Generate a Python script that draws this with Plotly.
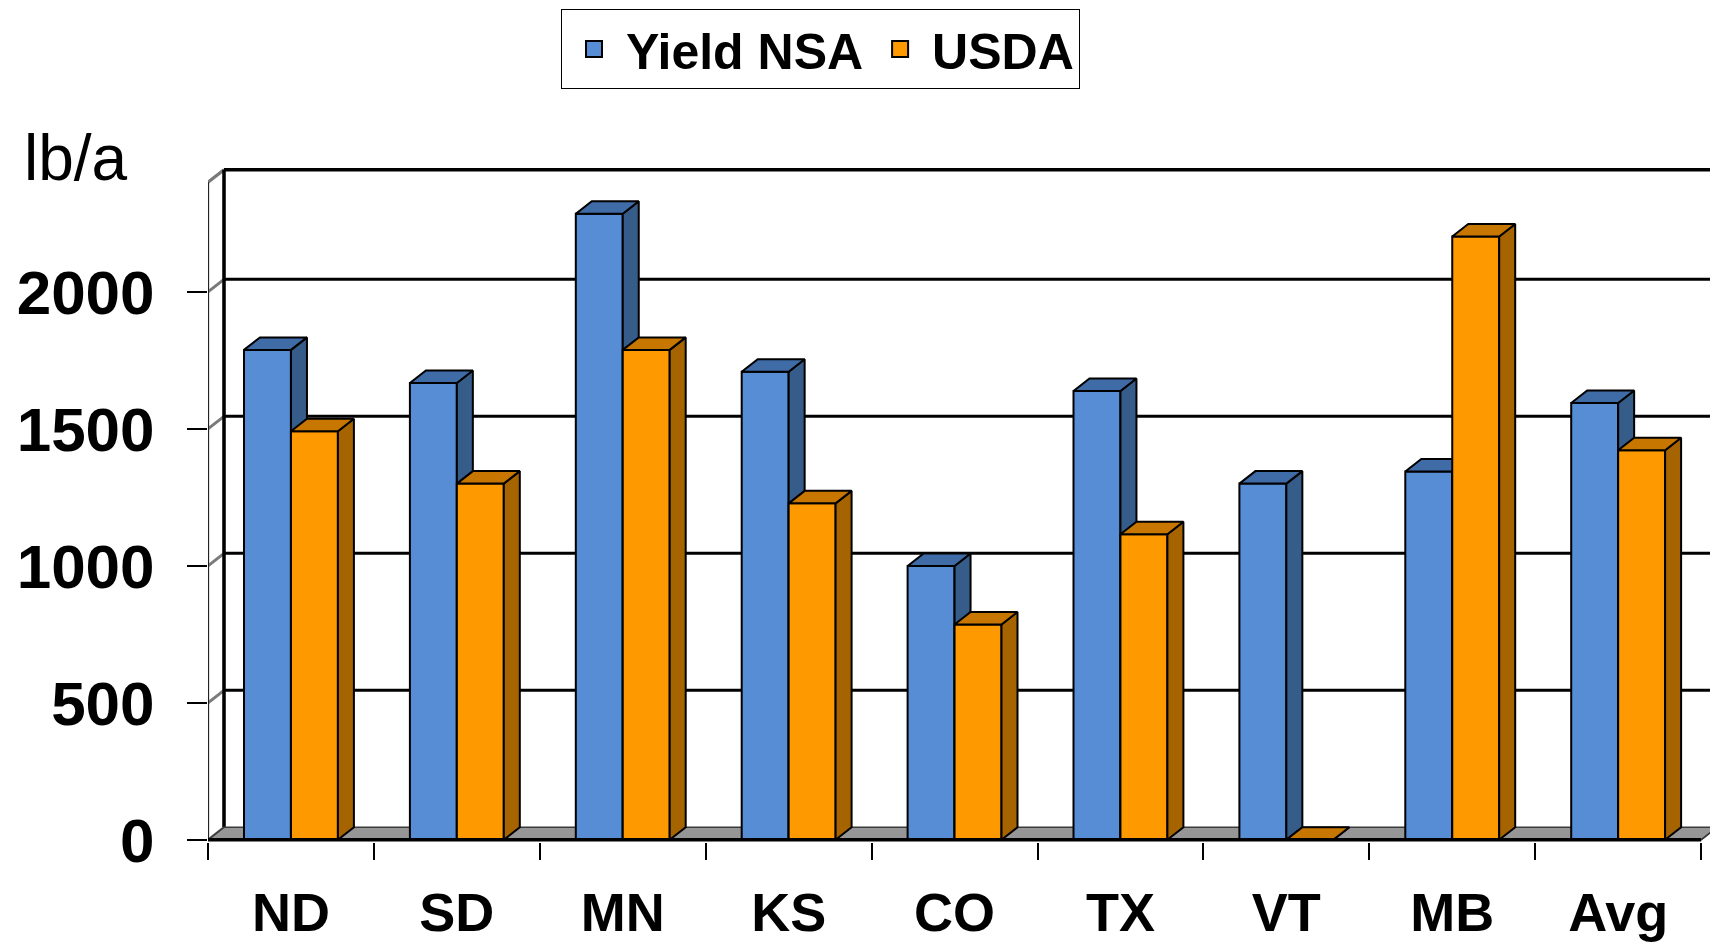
import plotly.graph_objects as go

# ---------------- data ----------------
categories = ["ND", "SD", "MN", "KS", "CO", "TX", "VT", "MB", "Avg"]
yield_nsa = [1788, 1667, 2285, 1708, 999, 1638, 1300, 1344, 1594]
usda = [1491, 1300, 1788, 1228, 786, 1115, 0, 2202, 1422]
y_ticks = [0, 500, 1000, 1500, 2000]
y_ticktext = ["0", "500", "1000", "1500", "2000"]
wall_top = 2400

# ---------------- geometry / styles ----------------
OFF = 8                      # page body margin
W, H = 1718 - OFF, 947 - OFF
ML, MT, MBOT, MR = 208 - OFF, 166 - OFF, 105, 0
plot_w = W - ML - MR
plot_h = H - MT - MBOT
px_per_cat = 165.9
px_per_unit = 0.274
x_lo = -0.5
x_hi = x_lo + plot_w / px_per_cat
y_lo = -8
y_hi = y_lo + plot_h / px_per_unit
DX = 16 / px_per_cat          # depth shift (categories)
DY = 12.5 / px_per_unit       # depth shift (value units)
BW = 0.283                    # bar width (categories)
n = len(categories)
x_left_edge, x_right_edge = -0.5, n - 0.5

FONT = "Liberation Sans, Arial, sans-serif"
blue = dict(front="#568DD5", side="#365C8A", top="#3F6BA6")
orange = dict(front="#FF9900", side="#A66400", top="#C77700")

fig = go.Figure()


def line_trace(xs, ys, color, width, z=0):
    fig.add_trace(go.Scatter(x=xs, y=ys, mode="lines", line=dict(color=color, width=width),
                             hoverinfo="skip", showlegend=False, zorder=z))


def poly_trace(polys, fill, z, lw=2, lc="black"):
    xs, ys = [], []
    for px, py in polys:
        xs += list(px) + [px[0], None]
        ys += list(py) + [py[0], None]
    fig.add_trace(go.Scatter(x=xs, y=ys, mode="lines", fill="toself", fillcolor=fill,
                             line=dict(color=lc, width=lw), hoverinfo="skip",
                             showlegend=False, zorder=z))


# side wall (left)
poly_trace([([x_left_edge, x_left_edge, x_left_edge + DX, x_left_edge + DX],
             [0, wall_top, wall_top + DY, DY])], "white", 0, lw=2.5, lc="#8a8a8a")
for v in y_ticks[1:]:
    line_trace([x_left_edge, x_left_edge + DX], [v, v + DY], "#7a7a7a", 3, 0)
line_trace([x_left_edge, x_left_edge + DX], [wall_top, wall_top + DY], "#7a7a7a", 3, 0)
# back wall gridlines
for v in y_ticks[1:]:
    line_trace([x_left_edge + DX, x_right_edge + DX], [v + DY, v + DY], "black", 3, 0)
# back wall top + left edge + right edge
line_trace([x_left_edge + DX, x_right_edge + DX], [wall_top + DY, wall_top + DY], "black", 3.5, 0)
line_trace([x_left_edge + DX, x_left_edge + DX], [DY, wall_top + DY], "black", 3.5, 0)
line_trace([x_right_edge + DX, x_right_edge + DX], [DY, wall_top + DY], "#cfcfcf", 2, 0)
# front edge of side wall
line_trace([x_left_edge, x_left_edge], [0, wall_top], "black", 1.5, 0)
# floor
poly_trace([([x_left_edge, x_right_edge, x_right_edge + DX, x_left_edge + DX],
             [0, 0, DY, DY])], "#969696", 0, lw=1.5, lc="#3a3a3a")


def add_series(vals, name, colors, x0_off, z):
    xs = [i + x0_off + BW / 2 for i in range(n)]
    fig.add_trace(go.Bar(x=xs, y=vals, width=BW, name=name,
                         marker=dict(color=colors["front"], line=dict(color="black", width=2)),
                         showlegend=False, zorder=z))
    sides, tops = [], []
    for i, v in enumerate(vals):
        xl = i + x0_off
        xr = xl + BW
        sides.append(([xr, xr + DX, xr + DX, xr], [0, DY, v + DY, v]))
        tops.append(([xl, xr, xr + DX, xl + DX], [v, v, v + DY, v + DY]))
    poly_trace(sides, colors["side"], z)
    poly_trace(tops, colors["top"], z)


add_series(yield_nsa, "Yield NSA", blue, -BW, 1)
add_series(usda, "USDA", orange, 0.0, 2)

# front x axis line
line_trace([x_left_edge, x_right_edge], [0, 0], "black", 3.5, 3)
line_trace([x_right_edge, x_right_edge + DX], [0, DY], "#3a3a3a", 1.5, 3)

# legend entries (attached to boundary-tick axis)
for name, c in [("Yield NSA", blue["front"]), ("USDA", orange["front"])]:
    fig.add_trace(go.Scatter(x=[None], y=[None], mode="markers", name=name, xaxis="x2",
                             marker=dict(symbol="square", size=22, color=c,
                                         line=dict(color="black", width=2))))

fig.add_annotation(text="lb/a", xref="paper", yref="paper",
                   x=(22 - OFF - ML) / plot_w, y=(H - MBOT - (158 - OFF)) / plot_h,
                   xanchor="left", yanchor="middle", showarrow=False,
                   font=dict(family=FONT, size=64, color="black"))

fig.update_layout(
    width=W, height=H,
    margin=dict(l=ML, r=MR, t=MT, b=MBOT, autoexpand=False),
    paper_bgcolor="white", plot_bgcolor="white",
    barmode="overlay",
    showlegend=True,
    legend=dict(orientation="h", x=(561 - OFF - ML) / plot_w, y=(H - MBOT - (9 - OFF)) / plot_h,
                xanchor="left", yanchor="top", bgcolor="white",
                bordercolor="black", borderwidth=1, itemwidth=54,
                font=dict(family=FONT, size=50, color="black", weight="bold")),
    xaxis=dict(range=[x_lo, x_hi], tickvals=list(range(n)), ticktext=categories,
               ticks="", showgrid=False, zeroline=False, showline=False,
               ticklabelstandoff=34, automargin=False,
               tickfont=dict(family=FONT, size=54, color="black", weight="bold")),
    xaxis2=dict(range=[x_lo, x_hi], overlaying="x", anchor="y", side="bottom",
                tickvals=[k - 0.5 for k in range(n + 1)], ticks="outside", ticklen=17,
                tickwidth=1.5, tickcolor="black", showticklabels=False, automargin=False,
                showgrid=False, zeroline=False, showline=False),
    yaxis=dict(range=[y_lo, y_hi], tickvals=y_ticks, ticktext=y_ticktext,
               ticks="outside", ticklen=20, tickwidth=1.5, tickcolor="black",
               showgrid=False, zeroline=False, showline=False,
               ticklabelstandoff=20, automargin=False,
               tickfont=dict(family=FONT, size=62, color="black", weight="bold")),
)

fig.write_html("out.html")
